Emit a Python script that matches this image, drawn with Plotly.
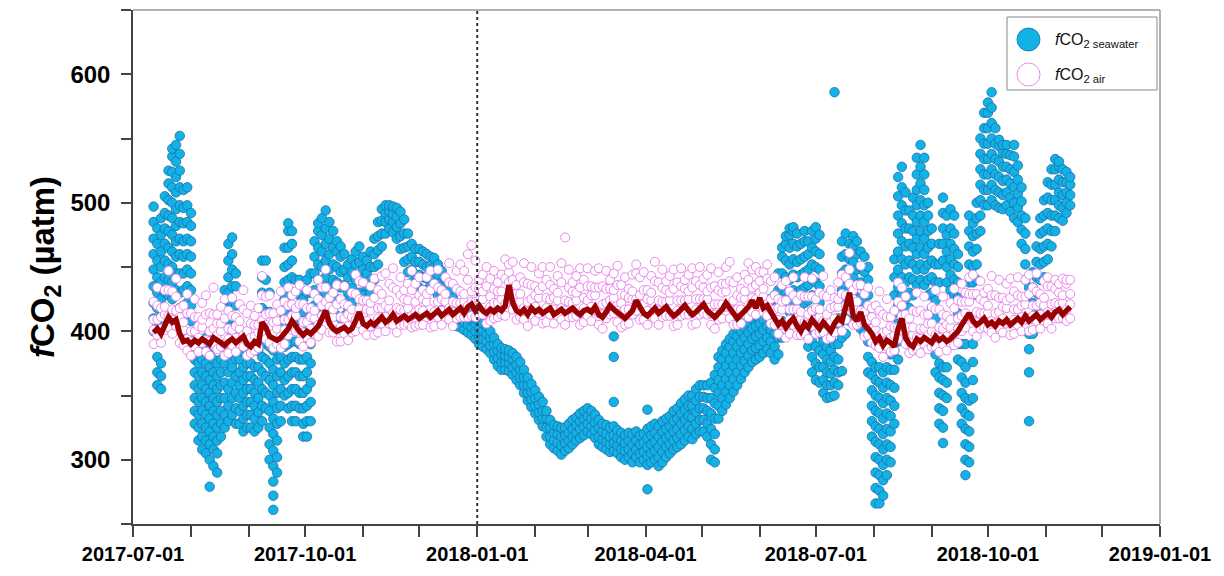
import plotly.graph_objects as go

# ---------------- seawater fCO2: (day-of-month, values) ----------------
sw_2017_07 = [
    (12, [400, 410, 422, 435, 448, 460, 472, 485, 497]),
    (14, [358, 368, 380, 405, 418, 430, 442, 455, 468, 480]),
    (16, [355, 365, 375, 412, 425, 438, 450, 462, 475, 488]),
    (18, [405, 418, 430, 442, 455, 468, 480, 492, 505]),
    (20, [415, 428, 440, 452, 465, 478, 490, 502, 515, 525]),
    (22, [425, 438, 450, 462, 475, 488, 500, 512, 524, 536, 542]),
    (24, [432, 445, 458, 470, 482, 495, 508, 520, 532, 545]),
    (26, [418, 430, 445, 460, 472, 485, 498, 512, 525, 538, 552]),
    (28, [408, 420, 432, 445, 458, 470, 484, 496, 510]),
    (30, [398, 410, 422, 435, 448, 460, 472, 485, 498, 512]),
]
sw_2017_08 = [
    (1, [395, 408, 420, 432, 445, 458, 470, 482, 492]),
    (3, [328, 338, 348, 358, 368, 378, 388]),
    (5, [315, 325, 335, 345, 355, 365, 375, 385, 392]),
    (7, [308, 318, 328, 338, 348, 358, 368, 378, 388]),
    (9, [305, 315, 325, 335, 345, 355, 365, 375, 385, 395]),
    (11, [279, 300, 312, 322, 332, 342, 352, 362, 372, 382]),
    (13, [295, 308, 318, 328, 338, 348, 358, 368, 378]),
    (15, [290, 305, 315, 325, 335, 345, 355, 365, 375, 388]),
    (17, [318, 328, 338, 348, 358, 368, 378, 388]),
    (19, [325, 335, 348, 360, 375, 390, 405, 420, 432]),
    (21, [330, 342, 355, 368, 380, 392, 405, 418, 430, 442, 455, 468]),
    (23, [335, 348, 360, 372, 385, 398, 410, 422, 435, 448, 460, 473]),
    (25, [328, 340, 352, 365, 378, 390, 405, 420, 435, 445]),
    (27, [328, 338, 348, 358, 368, 378, 390]),
    (29, [322, 332, 342, 352, 362, 372, 384]),
    (31, [325, 335, 345, 355, 365, 375, 385, 395]),
]
sw_2017_09 = [
    (2, [325, 335, 345, 355, 365, 375, 385]),
    (4, [322, 332, 342, 352, 362, 372, 385]),
    (6, [325, 337, 348, 360, 372, 385]),
    (8, [330, 342, 355, 368, 380, 392, 405, 418, 430, 442, 455]),
    (10, [340, 352, 365, 378, 390, 402, 415, 428, 440, 455]),
    (12, [300, 312, 325, 338, 350, 362, 375, 388, 400, 415, 430]),
    (14, [261, 272, 283, 295, 307, 320, 332, 345, 358, 370, 385]),
    (16, [290, 302, 315, 328, 340, 352, 365, 378, 390, 400]),
    (18, [330, 342, 355, 368, 380, 392, 405, 420]),
    (20, [350, 362, 375, 388, 400, 412, 425, 438, 450, 465]),
    (22, [340, 352, 365, 378, 390, 402, 415, 428, 440, 452, 465, 478, 484]),
    (24, [330, 342, 355, 368, 380, 392, 405, 418, 430, 442, 455, 468, 478]),
    (26, [330, 342, 355, 368, 380, 392, 405, 418, 430, 440]),
    (28, [340, 352, 365, 378, 390, 402, 415, 428, 440]),
    (30, [318, 328, 340, 352, 365, 378, 390, 402, 415, 425]),
]
sw_2017_10 = [
    (2, [318, 330, 342, 355, 368, 380, 392, 405, 418, 430, 440]),
    (4, [330, 345, 360, 375, 390, 405, 418, 430, 445]),
    (6, [408, 420, 432, 445, 458, 470]),
    (8, [415, 428, 440, 452, 465, 478, 484]),
    (10, [412, 425, 438, 450, 462, 475, 488]),
    (12, [418, 430, 442, 455, 468, 480, 494]),
    (14, [410, 422, 435, 448, 460, 472, 485]),
    (16, [415, 428, 440, 452, 465, 478]),
    (18, [412, 425, 438, 450, 462, 470]),
    (20, [410, 422, 434, 446, 458, 466]),
    (22, [412, 424, 436, 448, 460]),
    (24, [418, 430, 442, 452]),
    (26, [422, 434, 446, 456]),
    (28, [428, 440, 452, 462]),
    (30, [430, 442, 454, 466]),
]
sw_2017_11 = [
    (1, [428, 438, 448, 458]), (3, [425, 435, 445, 455]), (5, [430, 440, 450, 462]),
    (7, [440, 450, 460, 472]), (9, [452, 463, 474, 485]), (11, [466, 476, 486, 495]),
    (13, [476, 485, 492, 498]), (15, [480, 487, 493, 498]), (17, [477, 485, 491, 497]),
    (19, [472, 481, 489, 496]), (21, [464, 474, 484, 493]), (23, [454, 465, 476, 487]),
    (25, [446, 456, 466, 476]), (27, [438, 448, 458, 468]), (29, [434, 444, 454, 464]),
]
sw_2017_12 = [
    (1, [434, 444, 454, 464]), (3, [432, 442, 452, 462]), (5, [432, 441, 450, 460]),
    (7, [435, 443, 451, 458]), (9, [432, 441, 450, 457]), (11, [428, 436, 444, 452]),
    (13, [422, 430, 438, 447]), (15, [415, 423, 431, 440]), (17, [410, 417, 424, 432]),
    (19, [406, 413, 420, 426]), (21, [404, 410, 416, 422]), (23, [403, 409, 415, 420]),
    (25, [401, 407, 413, 418]), (27, [399, 405, 411, 416]), (29, [397, 403, 409, 414]),
    (31, [394, 400, 406, 410]),
]
sw_2018_01 = [
    (2, [390, 396, 402, 408]), (4, [388, 394, 400, 406]), (6, [386, 392, 398, 404]),
    (8, [383, 389, 395, 400]), (10, [378, 384, 390, 395]), (12, [373, 379, 385, 390]),
    (14, [370, 376, 382, 387]), (16, [370, 376, 381, 386]), (18, [369, 375, 380, 385]),
    (20, [366, 372, 378, 383]), (22, [362, 368, 374, 380]), (24, [358, 364, 370, 376]),
    (26, [352, 358, 364, 370]), (28, [346, 352, 358, 364]), (30, [341, 347, 353, 359]),
]
sw_2018_02 = [
    (1, [336, 342, 348, 354]), (3, [331, 337, 343, 349]), (5, [326, 332, 338, 345]),
    (7, [318, 325, 332, 338]), (9, [312, 318, 325, 331]), (11, [309, 315, 321, 327]),
    (13, [307, 313, 320, 326]), (15, [304, 311, 318, 325]), (17, [307, 313, 319, 325]),
    (19, [309, 315, 321, 328]), (21, [312, 318, 324, 331]), (23, [315, 321, 327, 333]),
    (25, [317, 324, 330, 336]), (27, [319, 326, 332, 338]),
]
sw_2018_03 = [
    (1, [322, 328, 334, 340]), (3, [320, 326, 332, 338]), (5, [317, 323, 329, 335]),
    (7, [312, 318, 325, 331]), (9, [310, 316, 322, 328]), (11, [308, 314, 320, 327]),
    (13, [306, 312, 318, 325]), (15, [307, 313, 319, 326, 345, 380, 396]),
    (17, [305, 311, 317, 323]), (19, [302, 308, 315, 321]), (21, [300, 307, 313, 319]),
    (23, [302, 308, 315, 321]), (25, [298, 305, 312, 320]), (27, [302, 308, 315, 322]),
    (29, [298, 305, 312, 319]), (31, [300, 306, 313, 320]),
]
sw_2018_04 = [
    (2, [277, 296, 303, 310, 317, 324, 339]), (4, [298, 305, 312, 319, 326]),
    (6, [300, 307, 314, 321, 328]), (8, [295, 302, 310, 318, 326]),
    (10, [298, 306, 314, 322, 330]), (12, [302, 310, 317, 324, 332]),
    (14, [305, 312, 319, 326, 334]), (16, [308, 315, 322, 330, 338]),
    (18, [310, 317, 324, 332, 340]), (20, [312, 320, 328, 336, 344]),
    (22, [315, 323, 331, 339, 347]), (24, [318, 326, 334, 342, 350]),
    (26, [316, 324, 333, 342, 350]), (28, [320, 328, 337, 346, 355]),
    (30, [322, 331, 340, 349, 358]),
]
sw_2018_05 = [
    (2, [322, 331, 340, 349, 358]), (4, [318, 328, 338, 348, 358]),
    (6, [300, 312, 324, 336, 348, 360]), (8, [298, 308, 320, 332, 344, 356, 366]),
    (10, [332, 342, 352, 362, 372, 380]), (12, [338, 348, 358, 368, 378, 385]),
    (14, [343, 353, 363, 373, 383, 390]), (16, [348, 358, 368, 378, 388, 394]),
    (18, [353, 363, 373, 383, 392, 398]), (20, [358, 368, 378, 388, 396, 402]),
    (22, [363, 373, 383, 392, 400, 406]), (24, [368, 377, 386, 395, 403, 410]),
    (26, [372, 381, 390, 399, 407, 413]), (28, [376, 385, 394, 402, 410, 416]),
    (30, [378, 387, 396, 404, 412, 418]),
]
sw_2018_06 = [
    (1, [380, 389, 398, 406, 414, 420]), (3, [383, 392, 401, 409, 417, 422]),
    (5, [386, 395, 404, 412, 420, 425]), (7, [383, 392, 401, 409, 416, 422]),
    (9, [378, 388, 398, 408, 418, 428]), (11, [382, 395, 408, 420, 432, 445]),
    (13, [395, 408, 420, 432, 445, 458, 465]), (15, [405, 418, 430, 442, 455, 468, 474]),
    (17, [415, 428, 440, 452, 465, 475, 480]), (19, [420, 432, 444, 456, 468, 478, 481]),
    (21, [418, 430, 442, 454, 466, 476]), (23, [408, 420, 432, 444, 456, 468]),
    (25, [398, 410, 422, 434, 446, 458, 470, 478]),
    (27, [388, 400, 412, 424, 436, 448, 460, 470]),
    (29, [368, 380, 392, 404, 416, 428, 440, 452, 465, 478]),
]
sw_2018_07 = [
    (1, [362, 375, 388, 400, 412, 425, 438, 450, 462, 472, 481]),
    (3, [360, 372, 385, 398, 410, 422, 435, 448, 460, 475]),
    (5, [352, 362, 372, 382, 392, 402]), (7, [348, 358, 368, 378, 388]),
    (9, [349, 358, 367, 376, 385, 393]), (11, [350, 360, 370, 380, 390, 586]),
    (13, [358, 368, 378, 390, 400, 410]), (15, [369, 395, 408, 420, 432, 445, 458, 470]),
    (17, [398, 410, 422, 435, 448, 460, 476]), (19, [408, 420, 432, 444, 456, 468]),
    (21, [418, 430, 442, 454, 466, 474]), (23, [412, 424, 436, 448, 460, 470]),
    (25, [402, 414, 426, 438, 450, 462]), (27, [398, 410, 422, 434, 446, 458]),
    (29, [368, 380, 392, 404, 416, 428, 440, 450]), (31, [318, 330, 342, 354, 366, 376]),
]
sw_2018_08 = [
    (2, [266, 278, 290, 302, 314, 326, 338, 350, 362, 372]),
    (4, [266, 276, 288, 300, 312, 324, 336, 348, 360, 372]),
    (6, [272, 284, 296, 308, 320, 332, 344, 356, 368]),
    (8, [288, 300, 312, 324, 336, 348, 360, 372]),
    (10, [298, 310, 322, 334, 346, 358, 370, 382, 392]),
    (12, [328, 342, 356, 370, 385, 400, 414, 428, 442, 456]),
    (14, [378, 392, 406, 420, 434, 448, 462, 476, 490, 505, 520]),
    (16, [415, 428, 442, 456, 470, 484, 498, 512, 528]),
    (18, [412, 425, 438, 452, 466, 480, 494, 508]),
    (20, [418, 430, 442, 455, 468, 480, 494]),
    (22, [428, 440, 452, 465, 478, 490, 504]),
    (24, [436, 448, 460, 472, 485, 498, 510, 522, 535]),
    (26, [440, 452, 465, 478, 490, 502, 515, 528, 545]),
    (28, [436, 448, 460, 472, 485, 498, 510, 522, 535]),
    (30, [428, 440, 452, 465, 478, 490, 500]),
]
sw_2018_09 = [
    (1, [418, 430, 442, 455, 468, 480]),
    (3, [368, 382, 396, 410, 424, 438, 452]),
    (5, [328, 340, 352, 364, 375, 438, 452, 468]),
    (7, [313, 325, 338, 350, 362, 372, 455, 468, 480, 492, 504]),
    (9, [348, 360, 372, 438, 450, 462, 475, 490]),
    (11, [432, 444, 456, 468, 480, 495]),
    (13, [428, 440, 452, 464, 476, 490]),
    (15, [378, 390, 402, 414, 426, 438, 450, 460]),
    (17, [328, 340, 352, 364, 376, 390]),
    (19, [288, 300, 312, 324, 336, 348, 360, 372, 390]),
    (21, [298, 310, 322, 334, 346, 438, 452, 466, 478, 490]),
    (23, [348, 362, 376, 390, 438, 450, 462, 474, 484]),
    (25, [428, 440, 452, 464, 476, 488, 500]),
    (27, [478, 490, 502, 514, 526, 538, 550]),
    (29, [498, 510, 522, 534, 546, 558, 570]),
]
sw_2018_10 = [
    (1, [498, 510, 522, 534, 546, 558, 570, 578]),
    (3, [502, 514, 526, 538, 550, 562, 574, 586]),
    (5, [498, 510, 522, 534, 546, 558]), (7, [496, 508, 520, 532, 544, 549]),
    (9, [495, 506, 517, 528, 539, 545]), (11, [498, 508, 518, 528, 538, 545]),
    (13, [493, 504, 515, 526, 537]), (15, [488, 500, 512, 524, 536, 545]),
    (17, [485, 496, 507, 518, 529]), (19, [468, 479, 490, 501, 512]),
    (21, [440, 452, 464, 476, 488]), (23, [330, 368, 386, 398, 410, 422, 434]),
    (25, [398, 410, 422, 434, 446]), (27, [418, 430, 442, 454, 466]),
    (29, [428, 440, 452, 464, 476, 488]), (31, [442, 454, 466, 478, 490, 502]),
]
sw_2018_11 = [
    (2, [456, 468, 480, 492, 504, 516]), (4, [466, 478, 490, 502, 514, 526]),
    (6, [478, 490, 502, 514, 526, 534]), (8, [488, 498, 508, 518, 528, 532]),
    (10, [486, 496, 506, 516, 526]), (12, [492, 500, 508, 516, 524]),
    (14, [498, 506, 514, 520]),
]

# ---------------- air fCO2: (day, running line value, individual values) ----------------
air_2017_07 = [
    (12, 399, [390, 401, 409, 423]), (14, 402, [397, 409, 420, 434]), (16, 398, [391, 402, 411, 418]),
    (18, 404, [401, 413, 419, 432]), (20, 411, [403, 412, 432, 447]), (22, 407, [398, 409, 417, 431]),
    (24, 409, [404, 416, 427, 441]), (26, 398, [391, 402, 411, 418]), (28, 392, [389, 401, 407, 420]),
    (30, 393, [385, 394, 414, 429]),
]
air_2017_08 = [
    (1, 390, [381, 392, 400, 414]), (3, 393, [388, 400, 411, 425]), (5, 391, [384, 395, 404, 411]),
    (7, 394, [391, 403, 409, 422]), (9, 392, [384, 393, 413, 428]), (11, 390, [381, 392, 400, 414]),
    (13, 395, [390, 402, 413, 434]), (15, 393, [386, 397, 406, 413]), (17, 391, [388, 400, 406, 419]),
    (19, 389, [381, 390, 410, 425]), (21, 392, [383, 394, 402, 416]), (23, 394, [389, 401, 412, 426]),
    (25, 391, [384, 395, 404, 411]), (27, 393, [390, 402, 408, 421]), (29, 396, [388, 397, 417, 432]),
    (31, 390, [381, 392, 400, 414]),
]
air_2017_09 = [
    (2, 388, [383, 395, 406, 420]), (4, 392, [385, 396, 405, 412]), (6, 390, [387, 399, 405, 418]),
    (8, 407, [399, 408, 428, 443]), (10, 403, [394, 405, 413, 427]), (12, 396, [391, 403, 414, 428]),
    (14, 394, [387, 398, 407, 414]), (16, 393, [390, 402, 408, 421]), (18, 395, [387, 396, 416, 431]),
    (20, 399, [390, 401, 409, 423]), (22, 402, [397, 409, 420, 434]), (24, 408, [401, 412, 421, 428]),
    (26, 403, [400, 412, 418, 431]), (28, 400, [392, 401, 421, 436]), (30, 397, [388, 399, 407, 421]),
]
air_2017_10 = [
    (2, 400, [395, 407, 418, 432]), (4, 398, [391, 402, 411, 418]), (6, 401, [398, 410, 416, 429]),
    (8, 404, [396, 405, 425, 440]), (10, 410, [401, 412, 420, 434]), (12, 416, [411, 423, 434, 448]),
    (14, 406, [399, 410, 419, 426]), (16, 402, [399, 411, 417, 430]), (18, 400, [392, 401, 421, 436]),
    (20, 401, [392, 403, 411, 425]), (22, 403, [398, 410, 421, 435]), (24, 400, [393, 404, 413, 420]),
    (26, 402, [399, 411, 417, 430]), (28, 408, [400, 409, 429, 444]), (30, 415, [406, 417, 425, 439]),
]
air_2017_11 = [
    (1, 406, [401, 413, 424, 438]), (3, 404, [397, 408, 417, 424]), (5, 407, [404, 416, 422, 435]),
    (7, 405, [397, 406, 426, 441]), (9, 408, [399, 410, 418, 432]), (11, 411, [406, 418, 429, 443]),
    (13, 407, [400, 411, 420, 445]), (15, 409, [406, 418, 424, 437]), (17, 413, [405, 414, 434, 449]),
    (19, 408, [399, 410, 418, 432]), (21, 410, [405, 417, 428, 442]), (23, 412, [405, 416, 425, 432]),
    (25, 409, [406, 418, 424, 437]), (27, 411, [403, 412, 432, 447]), (29, 413, [404, 415, 423, 437]),
]
air_2017_12 = [
    (1, 410, [405, 417, 428, 442]), (3, 412, [405, 416, 425, 432]), (5, 414, [411, 423, 429, 442]),
    (7, 411, [403, 412, 432, 447]), (9, 413, [404, 415, 423, 437]), (11, 416, [411, 423, 434, 448]),
    (13, 412, [405, 416, 425, 432]), (15, 414, [411, 423, 429, 442]), (17, 417, [409, 418, 438, 453]),
    (19, 413, [404, 415, 423, 437]), (21, 415, [410, 422, 433, 447]), (23, 418, [411, 422, 431, 452]),
    (25, 414, [411, 423, 429, 447]), (27, 419, [411, 420, 440, 460]), (29, 421, [412, 423, 431, 467]),
    (31, 416, [411, 423, 434, 455]),
]
air_2018_01 = [
    (2, 420, [413, 424, 433, 440]), (4, 416, [413, 425, 431, 444]), (6, 414, [406, 415, 435, 450]),
    (8, 417, [408, 419, 427, 441]), (10, 415, [410, 422, 433, 447]), (12, 418, [411, 422, 431, 438]),
    (14, 416, [413, 425, 431, 444]), (16, 420, [412, 421, 441, 456]), (18, 436, [427, 438, 446, 452]),
    (20, 422, [417, 429, 440, 454]), (22, 416, [409, 420, 429, 436]), (24, 414, [411, 423, 429, 442]),
    (26, 417, [409, 418, 438, 453]), (28, 413, [404, 415, 423, 437]), (30, 418, [413, 425, 436, 450]),
]
air_2018_02 = [
    (1, 415, [408, 419, 428, 435]), (3, 417, [414, 426, 432, 445]), (5, 414, [406, 415, 435, 450]),
    (7, 416, [407, 418, 426, 440]), (9, 418, [413, 425, 436, 450]), (11, 413, [406, 417, 426, 433]),
    (13, 415, [412, 424, 430, 443]), (15, 417, [409, 418, 438, 453]), (17, 414, [405, 416, 424, 473]),
    (19, 416, [411, 423, 434, 448]), (21, 418, [411, 422, 431, 438]), (23, 415, [412, 424, 430, 443]),
    (25, 413, [405, 414, 434, 449]), (27, 416, [407, 418, 426, 440]),
]
air_2018_03 = [
    (1, 417, [412, 424, 435, 449]), (3, 415, [408, 419, 428, 435]), (5, 419, [416, 428, 434, 447]),
    (7, 413, [405, 414, 434, 449]), (9, 411, [402, 413, 421, 435]), (11, 415, [410, 422, 433, 447]),
    (13, 420, [413, 424, 433, 440]), (15, 417, [414, 426, 432, 445]), (17, 415, [407, 416, 436, 451]),
    (19, 412, [403, 414, 422, 436]), (21, 410, [405, 417, 428, 442]), (23, 413, [406, 417, 426, 433]),
    (25, 416, [413, 425, 431, 444]), (27, 424, [416, 425, 445, 452]), (29, 418, [409, 420, 428, 442]),
    (31, 414, [409, 421, 432, 446]),
]
air_2018_04 = [
    (2, 412, [405, 416, 425, 432]), (4, 415, [412, 424, 430, 443]), (6, 418, [410, 419, 439, 454]),
    (8, 414, [405, 416, 424, 438]), (10, 416, [411, 423, 434, 448]), (12, 419, [412, 423, 432, 439]),
    (14, 415, [412, 424, 430, 443]), (16, 412, [404, 413, 433, 448]), (18, 414, [405, 416, 424, 438]),
    (20, 417, [412, 424, 435, 449]), (22, 420, [413, 424, 433, 440]), (24, 416, [413, 425, 431, 444]),
    (26, 413, [405, 414, 434, 449]), (28, 415, [406, 417, 425, 439]), (30, 418, [413, 425, 436, 450]),
]
air_2018_05 = [
    (2, 421, [414, 425, 434, 441]), (4, 416, [413, 425, 431, 444]), (6, 413, [405, 414, 434, 449]),
    (8, 411, [402, 413, 421, 435]), (10, 414, [409, 421, 432, 446]), (12, 417, [410, 421, 430, 437]),
    (14, 422, [419, 431, 437, 450]), (16, 418, [410, 419, 439, 454]), (18, 414, [405, 416, 424, 438]),
    (20, 410, [405, 417, 428, 442]), (22, 413, [406, 417, 426, 433]), (24, 416, [413, 425, 431, 444]),
    (26, 419, [411, 420, 440, 453]), (28, 424, [415, 426, 434, 448]), (30, 418, [413, 425, 436, 450]),
]
air_2018_06 = [
    (1, 426, [419, 430, 439, 446]), (3, 418, [415, 427, 433, 446]), (5, 420, [412, 421, 441, 452]),
    (7, 415, [406, 417, 425, 439]), (9, 410, [405, 417, 428, 442]), (11, 405, [398, 409, 418, 425]),
    (13, 408, [405, 417, 423, 436]), (15, 403, [395, 404, 424, 439]), (17, 407, [398, 409, 417, 431]),
    (19, 410, [405, 417, 428, 442]), (21, 404, [397, 408, 417, 424]), (23, 400, [397, 409, 415, 428]),
    (25, 406, [398, 407, 427, 442]), (27, 403, [394, 405, 413, 427]), (29, 409, [404, 416, 427, 441]),
]
air_2018_07 = [
    (1, 405, [398, 409, 418, 425]), (3, 402, [399, 411, 417, 430]), (5, 407, [399, 408, 428, 443]),
    (7, 403, [394, 405, 413, 427]), (9, 400, [395, 407, 418, 432]), (11, 406, [399, 410, 419, 426]),
    (13, 410, [407, 419, 425, 438]), (15, 408, [400, 409, 429, 444]), (17, 418, [409, 420, 428, 442]),
    (19, 430, [425, 437, 448, 461]), (21, 412, [405, 416, 425, 432]), (23, 408, [405, 417, 423, 436]),
    (25, 415, [407, 416, 436, 451]), (27, 405, [396, 407, 415, 429]), (29, 402, [397, 409, 420, 434]),
    (31, 398, [391, 402, 411, 418]),
]
air_2018_08 = [
    (2, 392, [389, 401, 407, 420]), (4, 395, [387, 396, 416, 431]), (6, 389, [380, 391, 399, 413]),
    (8, 393, [388, 400, 411, 425]), (10, 391, [384, 395, 404, 411]), (12, 388, [385, 397, 403, 416]),
    (14, 402, [394, 403, 423, 438]), (16, 410, [401, 412, 420, 434]), (18, 395, [390, 402, 413, 427]),
    (20, 390, [383, 394, 403, 410]), (22, 388, [385, 397, 403, 416]), (24, 394, [386, 395, 415, 430]),
    (26, 392, [383, 394, 402, 416]), (28, 395, [390, 402, 413, 427]), (30, 393, [386, 397, 406, 413]),
]
air_2018_09 = [
    (1, 391, [388, 400, 406, 419]), (3, 396, [388, 397, 417, 432]), (5, 393, [384, 395, 403, 417]),
    (7, 395, [390, 402, 413, 427]), (9, 392, [385, 396, 405, 412]), (11, 394, [391, 403, 409, 422]),
    (13, 397, [389, 398, 418, 433]), (15, 400, [391, 402, 410, 424]), (17, 405, [400, 412, 423, 437]),
    (19, 410, [403, 414, 423, 430]), (21, 414, [411, 423, 429, 442]), (23, 408, [400, 409, 429, 444]),
    (25, 405, [396, 407, 415, 429]), (27, 407, [402, 414, 425, 439]), (29, 410, [403, 414, 423, 430]),
]
air_2018_10 = [
    (1, 405, [402, 414, 420, 433]), (3, 407, [399, 408, 428, 443]), (5, 404, [395, 406, 414, 428]),
    (7, 408, [403, 415, 426, 440]), (9, 406, [399, 410, 419, 426]), (11, 409, [406, 418, 424, 437]),
    (13, 405, [397, 406, 426, 441]), (15, 407, [398, 409, 417, 431]), (17, 410, [405, 417, 428, 442]),
    (19, 407, [400, 411, 420, 427]), (21, 412, [409, 421, 427, 440]), (23, 408, [400, 409, 429, 444]),
    (25, 410, [401, 412, 420, 434]), (27, 413, [408, 420, 431, 445]), (29, 409, [402, 413, 422, 429]),
    (31, 411, [408, 420, 426, 439]),
]
air_2018_11 = [
    (2, 414, [406, 415, 435, 442]), (4, 411, [402, 413, 421, 435]), (6, 415, [410, 422, 433, 440]),
    (8, 417, [410, 421, 430, 437]), (10, 413, [410, 422, 428, 441]), (12, 416, [408, 417, 437, 440]),
    (14, 419, [410, 421, 429, 440]),
]

x_tick_labels = ["2017-07-01", "2017-10-01", "2018-01-01", "2018-04-01",
                 "2018-07-01", "2018-10-01", "2019-01-01"]
y_tick_values = [300, 400, 500, 600]
divider_date = "2018-01-01"

sw_months = [(2017, 7, sw_2017_07), (2017, 8, sw_2017_08), (2017, 9, sw_2017_09),
             (2017, 10, sw_2017_10), (2017, 11, sw_2017_11), (2017, 12, sw_2017_12),
             (2018, 1, sw_2018_01), (2018, 2, sw_2018_02), (2018, 3, sw_2018_03),
             (2018, 4, sw_2018_04), (2018, 5, sw_2018_05), (2018, 6, sw_2018_06),
             (2018, 7, sw_2018_07), (2018, 8, sw_2018_08), (2018, 9, sw_2018_09),
             (2018, 10, sw_2018_10), (2018, 11, sw_2018_11)]
air_months = [(2017, 7, air_2017_07), (2017, 8, air_2017_08), (2017, 9, air_2017_09),
              (2017, 10, air_2017_10), (2017, 11, air_2017_11), (2017, 12, air_2017_12),
              (2018, 1, air_2018_01), (2018, 2, air_2018_02), (2018, 3, air_2018_03),
              (2018, 4, air_2018_04), (2018, 5, air_2018_05), (2018, 6, air_2018_06),
              (2018, 7, air_2018_07), (2018, 8, air_2018_08), (2018, 9, air_2018_09),
              (2018, 10, air_2018_10), (2018, 11, air_2018_11)]

sw_x, sw_y = [], []
for yr, mo, rows in sw_months:
    for day, vals in rows:
        for v in vals:
            sw_x.append(f"{yr}-{mo:02d}-{day:02d}")
            sw_y.append(v)

air_x, air_y, line_x, line_y = [], [], [], []
for yr, mo, rows in air_months:
    for day, lv, vals in rows:
        d = f"{yr}-{mo:02d}-{day:02d}"
        line_x.append(d)
        line_y.append(lv)
        for v in vals:
            air_x.append(d)
            air_y.append(v)

FONT = "Liberation Sans, Arial, Helvetica, sans-serif"
SW_FILL = "#12B2E6"
SW_EDGE = "#1C6FA6"
AIR_EDGE = "#EA86EA"

fig = go.Figure()
fig.add_trace(go.Scatter(x=sw_x, y=sw_y, mode="markers", showlegend=False,
                         marker=dict(size=9.5, color=SW_FILL, line=dict(color=SW_EDGE, width=0.8))))
fig.add_trace(go.Scatter(x=air_x, y=air_y, mode="markers", showlegend=False,
                         marker=dict(size=9, color="white", line=dict(color=AIR_EDGE, width=1))))
fig.add_trace(go.Scatter(x=line_x, y=line_y, mode="lines", showlegend=False,
                         line=dict(color="#990000", width=5.5)))

# plot area in pixels: x 133..1160, y 10..524
def px(x):
    return (x - 133) / 1027.0

def py(y):
    return (524 - y) / 514.0

shapes = [
    dict(type="line", xref="x", yref="paper", x0=divider_date, x1=divider_date, y0=0, y1=1,
         line=dict(color="#333333", width=2, dash="dot")),
    dict(type="line", xref="paper", yref="paper", x0=0, x1=1, y0=1, y1=1,
         line=dict(color="#999999", width=1.5)),
    dict(type="line", xref="paper", yref="paper", x0=1, x1=1, y0=0, y1=1,
         line=dict(color="#999999", width=1.5)),
    # legend box
    dict(type="rect", xref="paper", yref="paper", x0=px(1007), x1=px(1157), y0=py(90), y1=py(17),
         line=dict(color="#888888", width=1), fillcolor="white"),
    dict(type="circle", xref="paper", yref="paper", x0=px(1017), x1=px(1040), y0=py(51), y1=py(28),
         line=dict(color=SW_EDGE, width=0.8), fillcolor=SW_FILL),
    dict(type="circle", xref="paper", yref="paper", x0=px(1017), x1=px(1040), y0=py(86), y1=py(63),
         line=dict(color=AIR_EDGE, width=1), fillcolor="white"),
]
annotations = [
    dict(xref="paper", yref="paper", x=px(1053), y=py(40), xanchor="left", yanchor="middle",
         text="<i>f</i>CO<sub>2 seawater</sub>", showarrow=False,
         font=dict(family=FONT, size=16, color="#111")),
    dict(xref="paper", yref="paper", x=px(1053), y=py(75), xanchor="left", yanchor="middle",
         text="<i>f</i>CO<sub>2 air</sub>", showarrow=False,
         font=dict(family=FONT, size=16, color="#111")),
]

fig.update_layout(
    width=1224, height=576,
    margin=dict(l=133, r=64, t=10, b=52),
    paper_bgcolor="white", plot_bgcolor="white",
    font=dict(family=FONT, color="black"),
    shapes=shapes, annotations=annotations,
    xaxis=dict(type="date", range=["2017-07-01", "2019-01-01"],
               tickvals=x_tick_labels, ticktext=x_tick_labels,
               ticks="outside", ticklen=11, tickwidth=1.5, tickcolor="#444",
               showline=True, linecolor="#444", linewidth=1.5,
               showgrid=False, zeroline=False,
               tickfont=dict(family=FONT, size=20, weight="bold", color="black"),
               minor=dict(ticks="outside", dtick="M1", tick0="2017-07-01",
                          ticklen=11, tickwidth=1.5, tickcolor="#444", showgrid=False)),
    yaxis=dict(range=[250, 650], tickvals=y_tick_values,
               ticks="outside", ticklen=10, tickwidth=1.5, tickcolor="#444",
               showline=True, linecolor="#444", linewidth=1.5,
               showgrid=False, zeroline=False, ticklabelstandoff=6,
               tickfont=dict(family=FONT, size=24, weight="bold", color="black"),
               minor=dict(ticks="outside", dtick=50, tick0=250,
                          ticklen=10, tickwidth=1.5, tickcolor="#444", showgrid=False),
               title=dict(text="<i>f</i>CO<sub>2</sub> (µatm)", standoff=6,
                          font=dict(family=FONT, size=33, weight="bold", color="black"))),
)

fig.write_html("out.html", config={"displayModeBar": False},
               post_script="document.body.style.margin='0';")
